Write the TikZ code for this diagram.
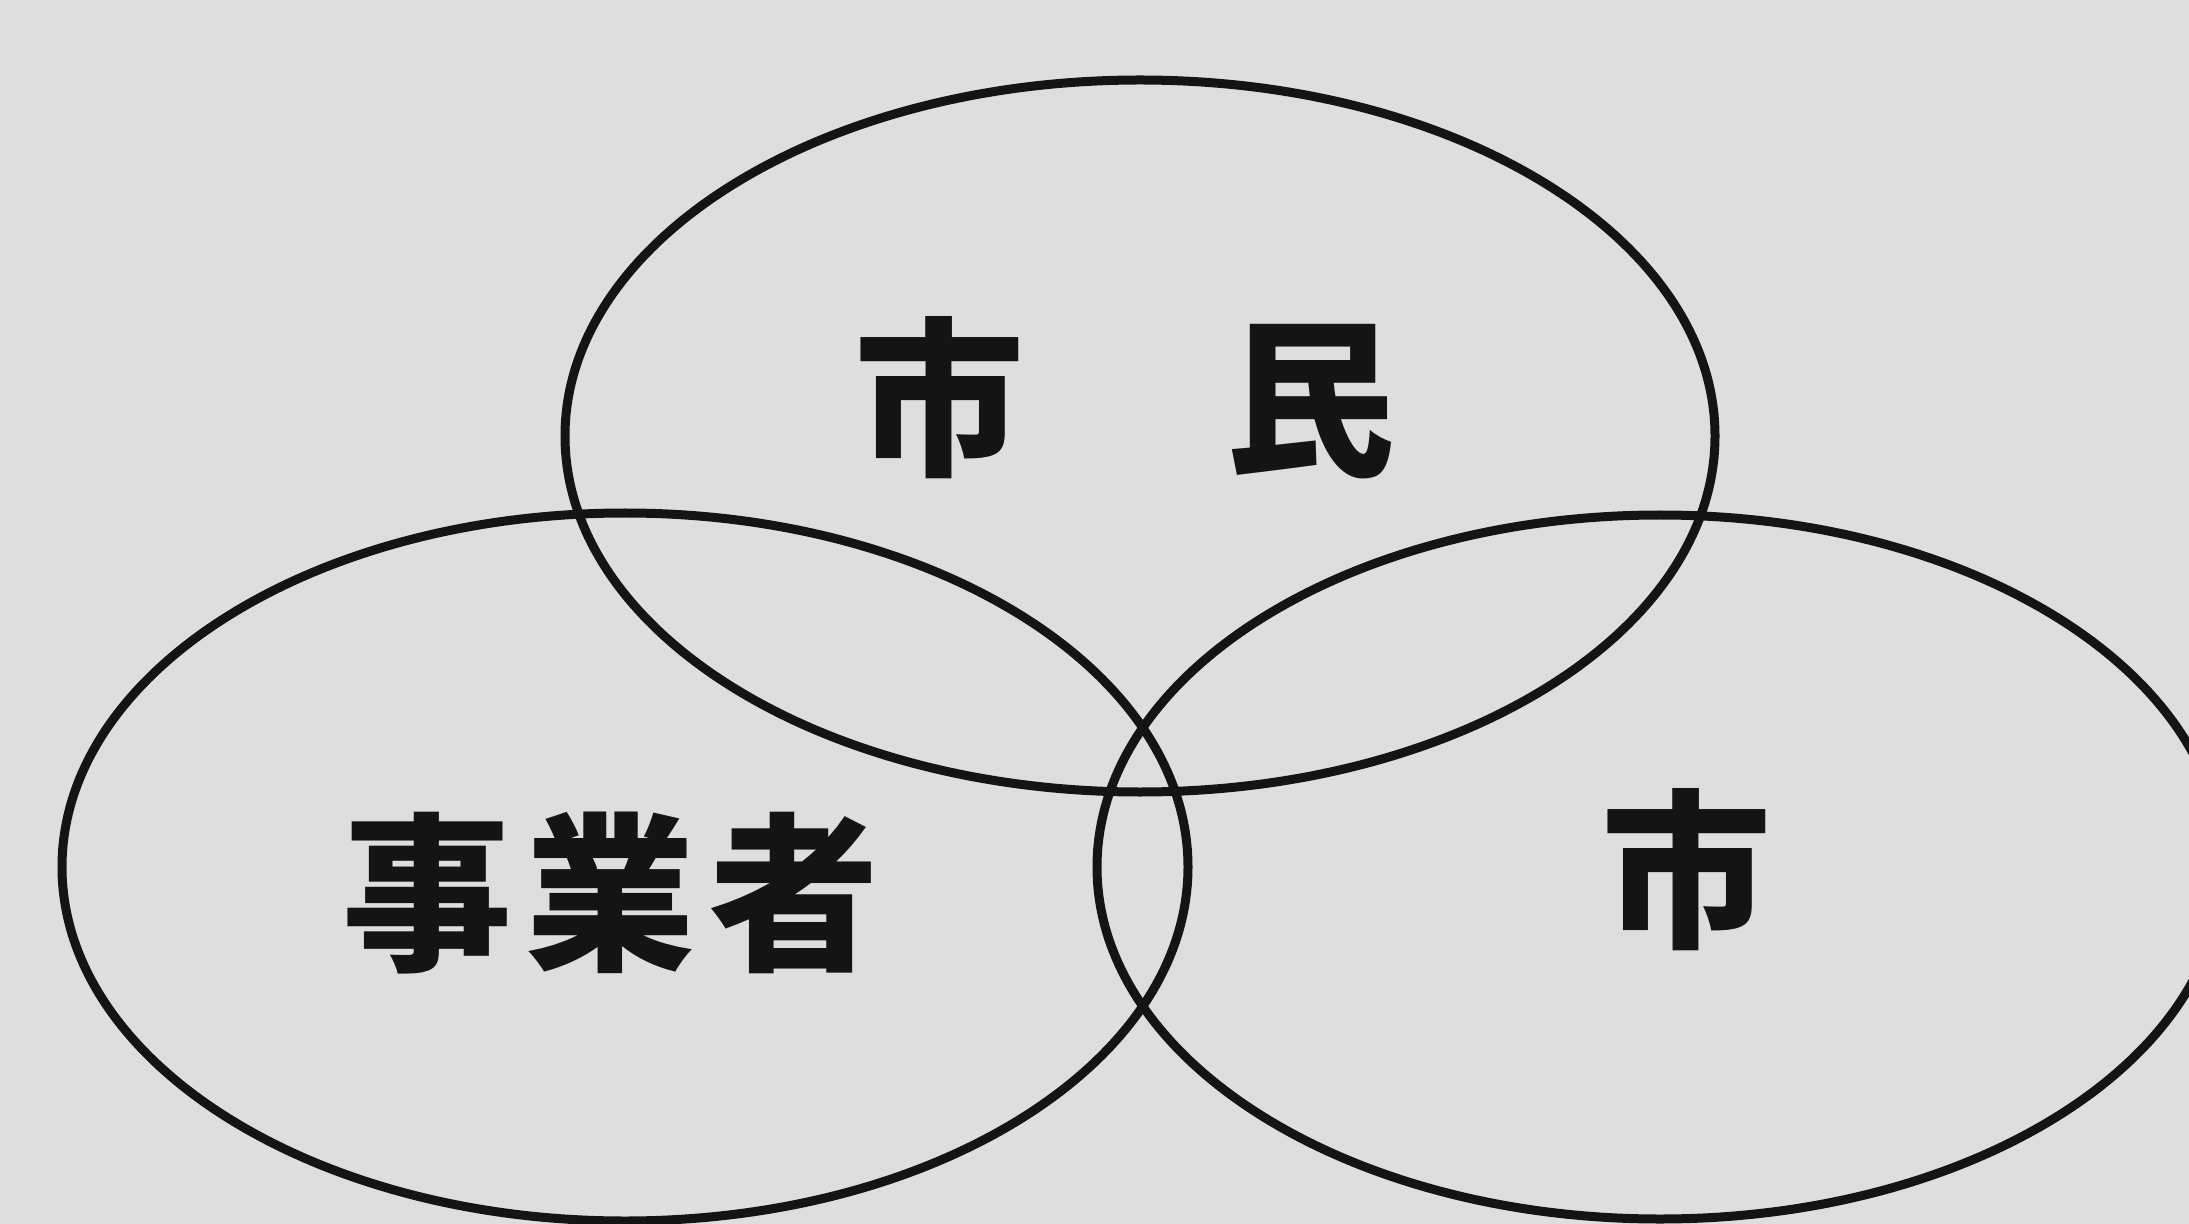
\documentclass[tikz,border=0pt]{standalone}
\usepackage{fontspec}
\newfontfamily\jp{Noto Sans CJK JP}
\definecolor{bg}{RGB}{222,222,222}
\definecolor{ink}{RGB}{20,20,20}
\tikzset{
  ring/.style={draw=ink, line width=4.5pt},
  label/.style={font=\jp\bfseries\fontsize{85pt}{90pt}\selectfont, text=ink, inner sep=0pt, anchor=center}
}
\begin{document}
\begin{tikzpicture}[x=0.5pt,y=-0.5pt]
\useasboundingbox (0,0) rectangle (2189,1224);
\fill[bg] (0,0) rectangle (2189,1224);
\clip (0,0) rectangle (2189,1224);
% circles
\draw[ring] (1140,436) ellipse [x radius=287.5pt, y radius=178pt];
\draw[ring] (625,867) ellipse [x radius=281.5pt, y radius=177pt];
\draw[ring] (1660,867) ellipse [x radius=281.5pt, y radius=176pt];
% labels
\node[label] (shimin) at (1125,398) {市\kern16pt　民};
\node[label] (jigyosha) at (611,893) {事\kern7pt 業\kern7pt 者};
\node[label] (shi) at (1686,870) {市};
\end{tikzpicture}
\end{document}
